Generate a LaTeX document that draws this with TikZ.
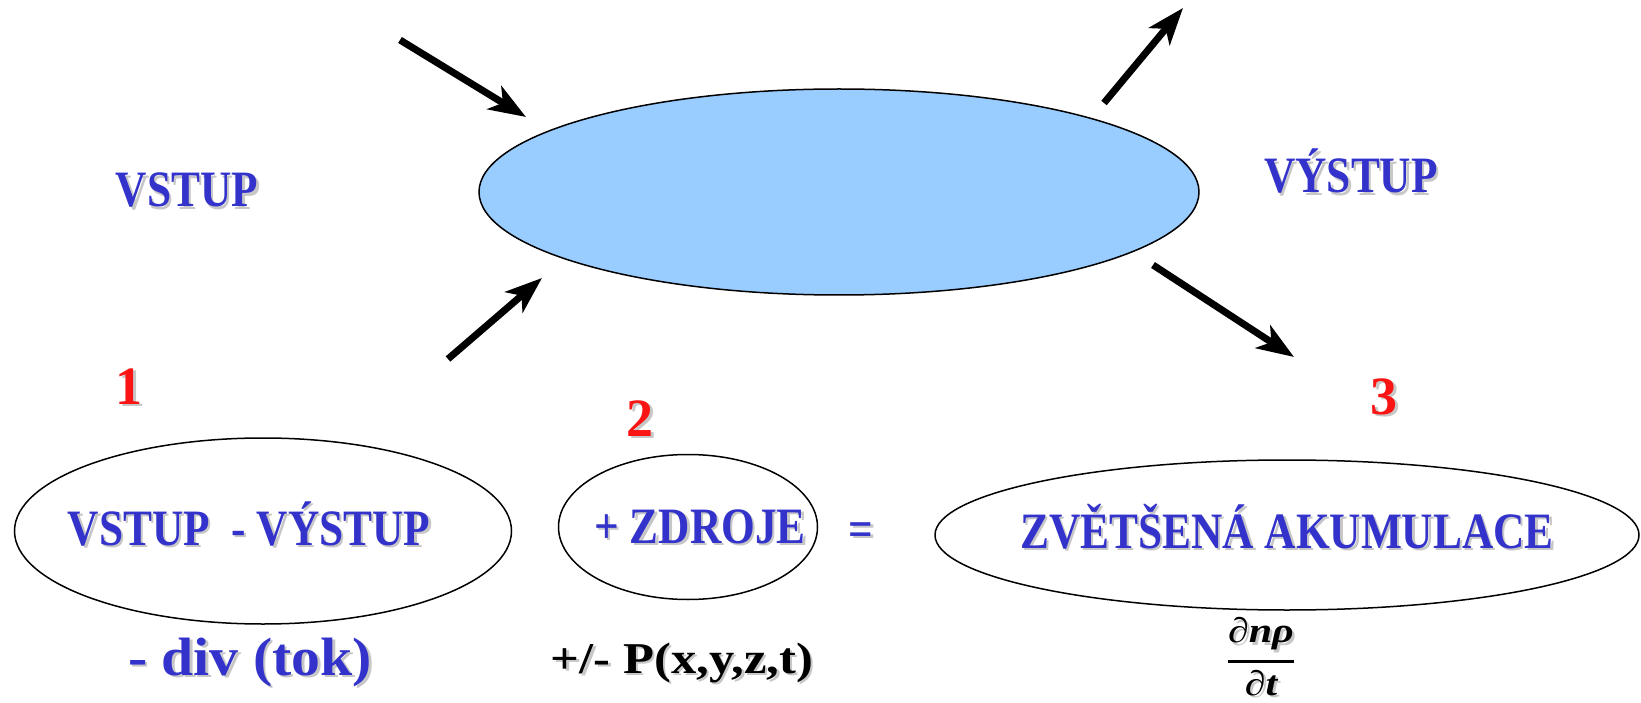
\documentclass[tikz,border=0pt]{standalone}
\usepackage{amsmath}
\usepackage{fontspec}
\setmainfont{Liberation Serif}
\newfontfamily\capfont{Liberation Serif}[FakeStretch=0.85]
\newfontfamily\widefont{Liberation Serif}[FakeStretch=1.07]
\newfontfamily\pfont{Liberation Serif}[FakeStretch=1.15]
\newfontfamily\fracfont{Liberation Serif}[FakeStretch=1.2]
\usetikzlibrary{shapes.geometric,arrows.meta}
\definecolor{bluetxt}{RGB}{51,51,204}
\definecolor{redtxt}{RGB}{250,20,20}
\definecolor{poolfill}{RGB}{153,204,255}
\newcommand\shd[1]{\makebox[0pt][l]{\hspace{2.5pt}\raisebox{-2.5pt}{\color{black!22}#1}}#1}
\tikzset{
  oval/.style={ellipse, draw=black, line width=1.5pt, inner sep=0pt},
  capsT/.style={font=\capfont\bfseries\fontsize{51}{60}\selectfont, text=bluetxt, anchor=base, inner sep=0pt},
  numT/.style={font=\bfseries\fontsize{54}{64}\selectfont, text=redtxt, anchor=base, inner sep=0pt},
  divT/.style={font=\widefont\bfseries\fontsize{54}{62}\selectfont, text=bluetxt, anchor=base, inner sep=0pt},
  pT/.style={font=\pfont\bfseries\fontsize{44}{52}\selectfont, text=black, anchor=base, inner sep=0pt},
  fracT/.style={font=\fracfont\bfseries\itshape\fontsize{35}{42}\selectfont, text=black, inner sep=0pt},
  flow/.style={line width=7pt, -{Stealth[length=37pt,width=27pt,inset=10pt]}}
}
\begin{document}
\begin{tikzpicture}[x=1pt,y=-1pt]
\useasboundingbox (0,0) rectangle (1641,703);
% central ellipse
\node[oval, fill=poolfill, minimum width=720pt, minimum height=206pt] (pool) at (839,192) {};
% arrows
\coordinate (in1s) at (400,40);   \coordinate (in1e) at (526,117);
\coordinate (in2s) at (448,359);  \coordinate (in2e) at (542,278);
\coordinate (out1s) at (1104,103); \coordinate (out1e) at (1183,8);
\coordinate (out2s) at (1153,265); \coordinate (out2e) at (1294,357);
\draw[flow] (in1s) -- (in1e);
\draw[flow] (in2s) -- (in2e);
\draw[flow] (out1s) -- (out1e);
\draw[flow] (out2s) -- (out2e);
% labels
\node[capsT] (vstup) at (187,207) {\shd{VSTUP}};
\node[capsT] (vystup) at (1351,193) {\shd{VÝSTUP}};
% numbers
\node[numT] (n1) at (129,404) {\shd{1}};
\node[numT] (n2) at (640,436) {\shd{2}};
\node[numT] (n3) at (1384,414) {\shd{3}};
% bottom ellipses
\node[oval, minimum width=497pt, minimum height=186pt] (e1) at (263,531) {};
\node[oval, minimum width=259pt, minimum height=145pt] (e2) at (688,527) {};
\node[oval, minimum width=704pt, minimum height=150pt] (e3) at (1287,535) {};
\node[capsT] (t1) at (249,545) {\shd{VSTUP\ \ - VÝSTUP}};
\node[capsT] (t2) at (700,543) {\shd{+ ZDROJE}};
\node[capsT] (eq) at (861,546) {\shd{=}};
\node[capsT] (t3) at (1287,548) {\shd{ZVĚTŠENÁ AKUMULACE}};
% bottom formulas
\node[divT] (div) at (250,675) {\shd{- div (tok)}};
\node[pT] (src) at (682,673) {\shd{+/- P(x,y,z,t)}};
\node[fracT] (frac) at (1261,658) {$\genfrac{}{}{2.5pt}{0}{\hbox{\shd{∂nρ}}}{\hbox{\shd{∂t}}}$};
\end{tikzpicture}
\end{document}
